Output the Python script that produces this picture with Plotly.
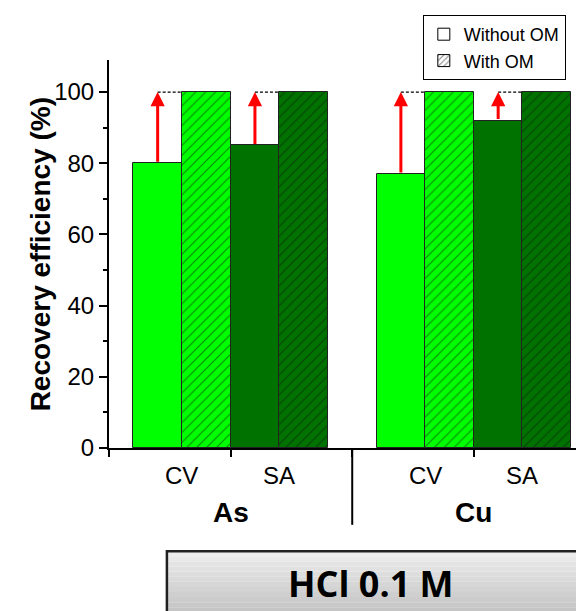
import plotly.graph_objects as go

# ---- data ----
elements = ["As", "Cu"]
methods = ["CV", "SA"]
without_om = [[80, 85], [77, 92]]      # Recovery efficiency (%) without OM
with_om = [[100, 100], [100, 100]]     # Recovery efficiency (%) with OM
y_ticks = [0, 20, 40, 60, 80, 100]
condition_label = "HCl 0.1 M"

# ---- styles ----
method_colors = {"CV": "#00FF00", "SA": "#007200"}
FONT = "Liberation Sans, Arial, sans-serif"

fig = go.Figure()

def xpos(g, m, o):
    return 1 + 5 * g + 2 * m + o

for g, el in enumerate(elements):
    for m, me in enumerate(methods):
        col = method_colors[me]
        # without OM bar
        fig.add_trace(go.Bar(
            x=[xpos(g, m, 0)], y=[without_om[g][m]], width=1,
            marker=dict(color=col, line=dict(color="#222222", width=1)),
            showlegend=False, hoverinfo="skip"))
        # with OM bar (hatched)
        fig.add_trace(go.Bar(
            x=[xpos(g, m, 1)], y=[with_om[g][m]], width=1,
            marker=dict(color=col, line=dict(color="#222222", width=1),
                        pattern=dict(shape="/", fgcolor="#111111", bgcolor=col,
                                     size=7, solidity=0.16)),
            showlegend=False, hoverinfo="skip"))
        # dotted guide line at the with-OM level
        xa = xpos(g, m, 0)
        fig.add_trace(go.Scatter(
            x=[xa, xa + 0.5], y=[with_om[g][m], with_om[g][m]], mode="lines",
            line=dict(color="black", width=1.2, dash="3px,2px"),
            showlegend=False, hoverinfo="skip"))
        # red arrow from without-OM up to with-OM
        fig.add_annotation(
            x=xa, y=with_om[g][m], ax=xa, ay=without_om[g][m],
            xref="x", yref="y", axref="x", ayref="y",
            showarrow=True, arrowhead=2, arrowsize=0.95, arrowwidth=3,
            arrowcolor="#FF0000", text="", standoff=0)

# legend entries
fig.add_trace(go.Bar(x=[None], y=[None], name="Without OM",
                     marker=dict(color="white", line=dict(color="black", width=1))))
fig.add_trace(go.Bar(x=[None], y=[None], name="With OM",
                     marker=dict(color="white", line=dict(color="black", width=1),
                                 pattern=dict(shape="/", fgcolor="black", bgcolor="white",
                                              size=5, solidity=0.25))))

# x tick (method) labels and group labels
for g, el in enumerate(elements):
    for m, me in enumerate(methods):
        fig.add_annotation(x=xpos(g, m, 0) + 0.5, y=-0.07, xref="x", yref="paper",
                           text=me, showarrow=False, yanchor="middle",
                           font=dict(family=FONT, size=24, color="black"))
    fig.add_annotation(x=xpos(g, 0, 0) + 1.5, y=-0.165, xref="x", yref="paper",
                       text="<b>%s</b>" % el, showarrow=False, yanchor="middle",
                       font=dict(family=FONT, size=28, color="black"))

# group separator
fig.add_shape(type="line", xref="x", yref="paper", x0=5, x1=5, y0=0, y1=-0.198,
              line=dict(color="black", width=2))

# y title
fig.add_annotation(x=-0.147, y=0.5, xref="paper", yref="paper", textangle=-90,
                   text="<b>Recovery efficiency (%)</b>", showarrow=False,
                   xanchor="center", yanchor="middle",
                   font=dict(family=FONT, size=28, color="black"))

# condition box with gradient
x0b, x1b = 0.124, 1.05
ytop, ybot = -0.266, -0.45
nb = 14
for i in range(nb):
    t = i / (nb - 1)
    c = int(236 - t * (236 - 190))
    fig.add_shape(type="rect", xref="paper", yref="paper",
                  x0=x0b, x1=x1b,
                  y0=ytop - (ytop - ybot) * i / nb,
                  y1=ytop - (ytop - ybot) * (i + 1) / nb,
                  line=dict(width=0), fillcolor="rgb(%d,%d,%d)" % (c, c, c))
fig.add_shape(type="rect", xref="paper", yref="paper", x0=x0b, x1=x1b,
              y0=ytop, y1=ybot, line=dict(color="#202020", width=2.5),
              fillcolor="rgba(0,0,0,0)")
fig.add_annotation(x=0.561, y=-0.35, xref="paper", yref="paper",
                   text="<b>%s</b>" % condition_label, showarrow=False,
                   xanchor="center", yanchor="middle",
                   font=dict(family="Open Sans, Noto Sans, sans-serif", size=36, color="black"))

fig.update_layout(
    width=576, height=611,
    margin=dict(l=109, r=0, t=60, b=163),
    plot_bgcolor="white", paper_bgcolor="white",
    barmode="overlay", bargap=0,
    font=dict(family=FONT, color="black"),
    legend=dict(x=0.672, y=1.116, xanchor="left", yanchor="top",
                bgcolor="white", bordercolor="black", borderwidth=1,
                font=dict(family=FONT, size=18, color="black"),
                tracegroupgap=0, itemwidth=30),
    xaxis=dict(range=[0, 9.6], showline=True, linecolor="black", linewidth=2,
               tickvals=[0, 2.5, 5, 7.5], ticktext=["", "", "", ""],
               ticks="outside", ticklen=7, tickwidth=2, tickcolor="black",
               showgrid=False, zeroline=False),
    yaxis=dict(range=[0, 109], showline=True, linecolor="black", linewidth=2,
               tickvals=y_ticks, ticks="outside", ticklen=8, tickwidth=2,
               tickcolor="black", tickfont=dict(family=FONT, size=24, color="black"),
               minor=dict(dtick=10, ticks="outside", ticklen=4, tickwidth=2,
                          tickcolor="black"),
               showgrid=False, zeroline=False),
)

fig.write_html("out.html", config={"displayModeBar": False},
               post_script="document.body.style.margin='0';document.body.style.overflow='hidden';")
